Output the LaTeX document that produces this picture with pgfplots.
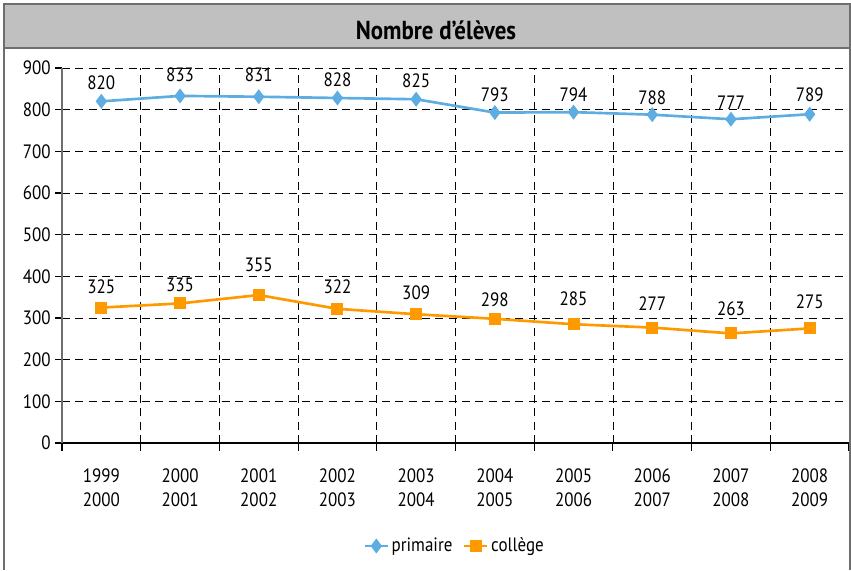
\documentclass[border=0pt]{standalone}
\usepackage{fontspec}
\setmainfont{PT Sans}[FakeStretch=0.88]
\usepackage{pgfplots}
\usepackage{pgfplotstable}
\pgfplotsset{compat=1.18}
\definecolor{prim}{HTML}{5DADE2}
\definecolor{coll}{HTML}{FF9900}
\definecolor{bargrey}{HTML}{C0C0C0}
\definecolor{edge}{HTML}{6E6E6E}
\pgfplotstableread{
x y ly
0 820 864.7
1 833 883.2
2 831 883.2
3 828 871.2
4 825 869.5
5 793 835.2
6 794 835.2
7 788 828.0
8 777 816.0
9 789 835.2
}\primaire
\pgfplotstableread{
x y ly
0 325 375.1
1 335 379.2
2 355 427.2
3 322 375.1
4 309 360.0
5 298 343.2
6 285 345.6
7 277 333.6
8 263 321.6
9 275 339.1
}\college
\newcommand\tfont{\fontsize{14.5}{18}\selectfont}
\begin{document}
\begin{tikzpicture}
\begin{axis}[
  scale only axis, width=590.25pt, height=281.25pt,
  at={(0,0)}, anchor=south west,
  xmin=-0.5, xmax=9.5, ymin=0, ymax=900,
  axis x line*=bottom, axis y line*=left,
  x axis line style={black, line width=0.9pt},
  y axis line style={edge, line width=1.5pt},
  /pgf/number format/assume math mode=true,
  tick align=outside,
  xtick={0,...,9},
  xticklabels={{1999\\2000},{2000\\2001},{2001\\2002},{2002\\2003},{2003\\2004},{2004\\2005},{2005\\2006},{2006\\2007},{2007\\2008},{2008\\2009}},
  xticklabel style={align=center, font=\tfont, yshift=-11pt},
  major x tick style={draw=none},
  minor xtick={-0.5,0.5,...,9.5},
  xminorgrids,
  minor x grid style={black, line width=0.6pt, dash pattern=on 6pt off 4pt},
  minor x tick style={black, line width=0.8pt},
  minor tick length=6pt,
  ytick={0,100,...,900},
  yticklabel style={font=\tfont},
  ymajorgrids,
  major y grid style={black, line width=0.6pt, dash pattern=on 6pt off 4pt},
  major y tick style={black, line width=0.8pt},
  major tick length=5pt,
  legend style={at={(0.4994,-0.2747)}, anchor=center, draw=none, font=\tfont,
    legend columns=2, /tikz/every even column/.append style={column sep=6pt}},
  legend cell align=left,
  clip=false,
]
\addplot[prim, line width=2pt, mark=diamond*, mark size=4pt, mark options={solid}] table[x=x,y=y] {\primaire};
\addlegendentry{primaire}
\addplot[coll, line width=2pt, mark=square*, mark size=3.5pt, mark options={solid}] table[x=x,y=y] {\college};
\addlegendentry{collège}
\addplot[draw=none, mark=none, forget plot, nodes near coords, point meta=explicit symbolic,
  nodes near coords align=center, every node near coord/.append style={font=\tfont, inner sep=0pt}]
  table[x=x, y=ly, meta=y] {\primaire};
\addplot[draw=none, mark=none, forget plot, nodes near coords, point meta=explicit symbolic,
  nodes near coords align=center, every node near coord/.append style={font=\tfont, inner sep=0pt}]
  table[x=x, y=ly, meta=y] {\college};
\end{axis}
% frame and title bar
\fill[bargrey] (-43.5pt,296.25pt) rectangle (591pt,329.25pt);
\draw[edge, line width=1.2pt] (-43.5pt,296.25pt) -- (591pt,296.25pt);
\draw[edge, line width=1.2pt] (-43.5pt,-95pt) -- (-43.5pt,329.25pt) -- (591pt,329.25pt) -- (591pt,-95pt);
\node[font=\fontsize{19.5}{22}\selectfont\bfseries] at (280.5pt,309.75pt) {Nombre d’élèves};
\path[use as bounding box] (-46.5pt,-90.75pt) rectangle (591.75pt,332.25pt);
\end{tikzpicture}
\end{document}
